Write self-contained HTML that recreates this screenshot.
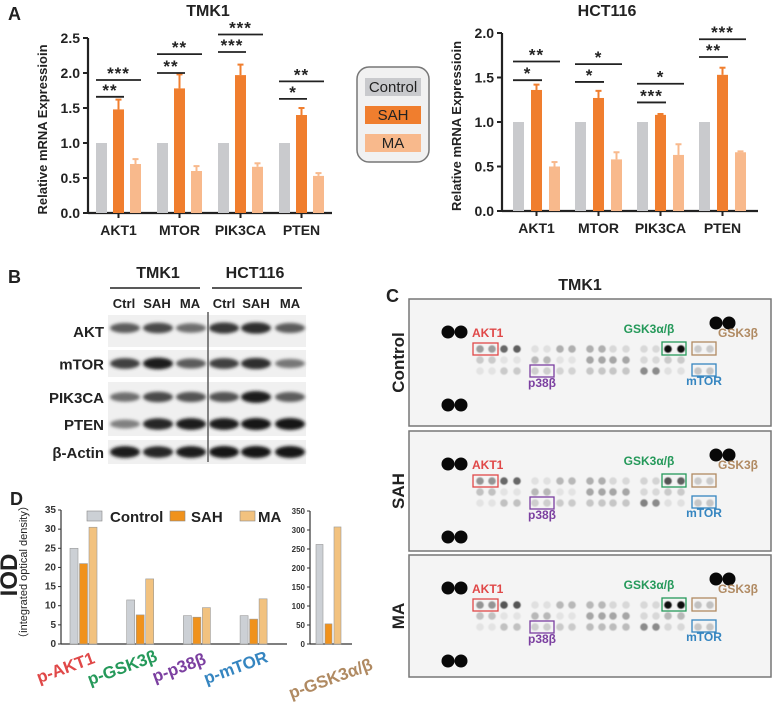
<!DOCTYPE html>
<html><head><meta charset="utf-8"><style>
body{margin:0;background:#fff;}
svg{display:block;font-family:"Liberation Sans",Arial,sans-serif;}
</style></head><body>
<svg id="fig" width="775" height="703" viewBox="0 0 775 703">
<defs>
<filter id="blur" x="-20%" y="-50%" width="140%" height="200%"><feGaussianBlur stdDeviation="1.6"/></filter>
<filter id="sblur"><feGaussianBlur stdDeviation="0.6"/></filter>
</defs>
<g id="gA"></g><g id="gB"></g><g id="gC"></g><g id="gD"></g>
</svg>
<script>
const NS='http://www.w3.org/2000/svg';
function mk(parent,tag,attrs,text){const e=document.createElementNS(NS,tag);for(const k in attrs)e.setAttribute(k,attrs[k]);if(text!==undefined)e.textContent=text;parent.appendChild(e);return e;}

// ===== Panel A data =====
const genes=['AKT1','MTOR','PIK3CA','PTEN'];
const tmkCtrl=[1,1,1,1];
const tmkSAH=[1.48,1.78,1.97,1.40];
const tmkSAHerr=[0.14,0.20,0.15,0.10];
const tmkMA=[0.70,0.60,0.66,0.53];
const tmkMAerr=[0.07,0.07,0.05,0.04];
const tmkTicks=[0,0.5,1.0,1.5,2.0,2.5];
const tmkSigShort=['**','**','***','*'];
const tmkSigShortY=[1.66,2.0,2.3,1.63];
const tmkSigWide=['***','**','***','**'];
const tmkSigWideY=[1.9,2.27,2.55,1.88];

const hctCtrl=[1,1,1,1];
const hctSAH=[1.36,1.27,1.08,1.53];
const hctSAHerr=[0.06,0.08,0.01,0.08];
const hctMA=[0.50,0.58,0.63,0.66];
const hctMAerr=[0.05,0.08,0.12,0.01];
const hctTicks=[0,0.5,1.0,1.5,2.0];
const hctSigShort=['*','*','***','**'];
const hctSigShortY=[1.47,1.45,1.22,1.73];
const hctSigWide=['**','*','*','***'];
const hctSigWideY=[1.68,1.65,1.43,1.93];

// ===== Panel D data =====
const iodCats=['p-AKT1','p-GSK3β','p-p38β','p-mTOR'];
const iodCtrl=[25,11.5,7.4,7.4];
const iodSAH=[21,7.6,7.0,6.5];
const iodMA=[30.5,17,9.5,11.8];
const iodTicks=[0,5,10,15,20,25,30,35];
const gskCat='p-GSK3α/β';
const gskCtrl=[262];
const gskSAH=[53];
const gskMA=[308];
const gskTicks=[0,50,100,150,200,250,300,350];

const C_CTRL='#c9cacd',C_SAH='#f07e2e',C_MA='#f8b98c';

function drawBarChart(g,o){
  const y=v=>o.y0-(v-0)*o.ppu;
  mk(g,'line',{x1:o.ax,y1:o.y0,x2:o.ax,y2:y(o.ticks[o.ticks.length-1]),stroke:'#222','stroke-width':2.2});
  mk(g,'line',{x1:o.ax,y1:o.y0,x2:o.axEnd,y2:o.y0,stroke:'#222','stroke-width':2.2});
  o.ticks.forEach(t=>{
    const tk=mk(g,'line',{x1:o.ax-5,y1:y(t),x2:o.ax,y2:y(t),stroke:'#222','stroke-width':2});
    
    const tl=mk(g,'text',{x:o.ax-8,y:y(t)+5,'text-anchor':'end','font-size':14,'font-weight':'bold',fill:'#222'},t.toFixed(1));
    
  });
  const yt=mk(g,'text',{transform:`translate(${o.ax-41},${(o.y0+y(o.ticks[o.ticks.length-1]))/2+4}) rotate(-90)`,'text-anchor':'middle','font-size':13,'font-weight':'bold',fill:'#222'},'Relative mRNA Expressioin');
  
  const tt=mk(g,'text',{x:o.titleX,y:16,'text-anchor':'middle','font-size':16,'font-weight':'bold',fill:'#222'},o.title);
  
  genes.forEach((gname,i)=>{
    const gx=o.x0+i*o.gap;
    const series=[[o.ctrl[i],0,C_CTRL,'control'],[o.sah[i],o.sahErr[i],C_SAH,'sah'],[o.ma[i],o.maErr[i],C_MA,'ma']];
    series.forEach((s,j)=>{
      const bx=gx+j*o.step;
      if(s[1]>0){
        const e=mk(g,'line',{x1:bx+o.bw/2,y1:y(s[0]),x2:bx+o.bw/2,y2:y(s[0]+s[1]),stroke:s[2],'stroke-width':2});
        
        mk(g,'line',{x1:bx+o.bw/2-3,y1:y(s[0]+s[1]),x2:bx+o.bw/2+3,y2:y(s[0]+s[1]),stroke:s[2],'stroke-width':2});
      }
      const r=mk(g,'rect',{x:bx,y:y(s[0]),width:o.bw,height:o.y0-y(s[0]),fill:s[2]});
      
      
    });
    const cx=gx+o.step+o.bw/2;
    mk(g,'line',{x1:cx,y1:o.y0,x2:cx,y2:o.y0+5,stroke:'#222','stroke-width':2});
    const cl=mk(g,'text',{x:cx,y:o.y0+22,'text-anchor':'middle','font-size':14,'font-weight':'bold',fill:'#222'},gname);
    
    const x1=gx,xs=gx+o.step+o.bw,xw=gx+2*o.step+o.bw;
    const l1=mk(g,'line',{x1:x1,y1:y(o.sigSY[i]),x2:xs,y2:y(o.sigSY[i]),stroke:'#222','stroke-width':1.8});
    
    const s1=mk(g,'text',{x:(x1+xs)/2,y:y(o.sigSY[i])-1,'text-anchor':'middle','font-size':17,'font-weight':'bold','letter-spacing':1,fill:'#222'},o.sigS[i]);
    
    const l2=mk(g,'line',{x1:x1,y1:y(o.sigWY[i]),x2:xw,y2:y(o.sigWY[i]),stroke:'#222','stroke-width':1.8});
    
    const s2=mk(g,'text',{x:(x1+xw)/2,y:y(o.sigWY[i])-1,'text-anchor':'middle','font-size':17,'font-weight':'bold','letter-spacing':1,fill:'#222'},o.sigW[i]);
    
  });
}
const gA=document.getElementById('gA');

const la=mk(gA,'text',{x:8,y:20,'font-size':18,'font-weight':'bold',fill:'#222'},'A');

const gA1=mk(gA,'g',{});
drawBarChart(gA1,{ax:88,axEnd:332,y0:213,ppu:70,ticks:tmkTicks,x0:96,gap:61,step:17,bw:11,ctrl:tmkCtrl,sah:tmkSAH,sahErr:tmkSAHerr,ma:tmkMA,maErr:tmkMAerr,sigS:tmkSigShort,sigSY:tmkSigShortY,sigW:tmkSigWide,sigWY:tmkSigWideY,title:'TMK1',titleX:208});
const gA2=mk(gA,'g',{});
drawBarChart(gA2,{ax:502,axEnd:758,y0:211,ppu:89,ticks:hctTicks,x0:513,gap:62,step:18,bw:11,ctrl:hctCtrl,sah:hctSAH,sahErr:hctSAHerr,ma:hctMA,maErr:hctMAerr,sigS:hctSigShort,sigSY:hctSigShortY,sigW:hctSigWide,sigWY:hctSigWideY,title:'HCT116',titleX:607});
const lg=mk(gA,'g',{});
mk(lg,'rect',{x:357,y:67,width:72,height:95,rx:12,fill:'#f1f1f1',stroke:'#777','stroke-width':1.5});
[['Control',C_CTRL,78],['SAH',C_SAH,106],['MA',C_MA,134]].forEach(it=>{
  const e=mk(lg,'g',{});
  mk(e,'rect',{x:365,y:it[2],width:56,height:18,fill:it[1]});
  mk(e,'text',{x:393,y:it[2]+14,'text-anchor':'middle','font-size':15,fill:'#222'},it[0]);
});

// ===== Panel B =====
const gB=document.getElementById('gB');

function T(p,x,y,s,txt,name,extra){const e=mk(p,'text',Object.assign({x:x,y:y,'font-size':s,'font-weight':'bold',fill:'#222'},extra||{}),txt);return e;}
T(gB,8,283,18,'B','panel-label-b');
T(gB,158,278,16,'TMK1','cell-line-label',{'text-anchor':'middle'});
T(gB,255,278,16,'HCT116','cell-line-label',{'text-anchor':'middle'});
mk(gB,'line',{x1:110,y1:288,x2:200,y2:288,stroke:'#222','stroke-width':1.5});
mk(gB,'line',{x1:212,y1:288,x2:302,y2:288,stroke:'#222','stroke-width':1.5});
const lanes=['Ctrl','SAH','MA','Ctrl','SAH','MA'];
const laneX=[124,157,190,224,256,290];
lanes.forEach((l,i)=>T(gB,laneX[i],308,13,l,'lane-label',{'text-anchor':'middle'}));
const blotRows=['AKT','mTOR','PIK3CA','PTEN','β-Actin'];
const blotTop=[315,350,382,412,440];
const blotH=[32,27,30,24,24];
const bandInt=[[0.6,0.7,0.5,0.8,0.85,0.6],[0.75,0.95,0.6,0.75,0.85,0.45],[0.5,0.7,0.65,0.65,0.95,0.6],[0.4,0.9,0.95,0.95,1,1],[0.95,0.9,0.95,1,1,1]];
blotRows.forEach((r,i)=>{
  const rg=mk(gB,'g',{});
  mk(rg,'rect',{x:108,y:blotTop[i],width:198,height:blotH[i],fill:'#f0f0f0'});
  T(rg,104,blotTop[i]+blotH[i]/2+6,15,r,'blot-row-label',{'text-anchor':'end'});
  laneX.forEach((x,j)=>{
    const v=bandInt[i][j];const c=Math.round(200-180*v);
    mk(rg,'ellipse',{cx:x+(j<3?1:0),cy:blotTop[i]+blotH[i]/2-(i==0?3:0),rx:15,ry:3.5+2.5*v,fill:`rgb(${c},${c},${c})`,filter:'url(#blur)'});
  });
});
mk(gB,'line',{x1:208,y1:312,x2:208,y2:462,stroke:'#666','stroke-width':1.6});

// ===== Panel C =====
const gC=document.getElementById('gC');

T(gC,386,302,18,'C','panel-label-c');
T(gC,580,290,16,'TMK1','array-title',{'text-anchor':'middle'});
const spotX=[480,492,504,517,535,547,560,572,590,602,613,626,644,656,668,681,698,710];
const memNames=['Control','SAH','MA'];
const memTop=[299,431,555];
const memH=[127,120,122];
const row1={Control:[.45,.45,.75,.8,.08,.08,.35,.35,.35,.35,.12,.12,.12,.12,1,1,.2,.2],SAH:[.5,.5,.75,.75,.08,.08,.3,.3,.35,.35,.12,.12,.15,.15,.85,.8,.2,.2],MA:[.5,.5,.85,.85,.08,.08,.3,.3,.3,.3,.12,.12,.12,.12,1,1,.25,.25]};
const row2={Control:[.2,.2,.06,.06,.3,.3,.06,.06,.4,.4,.4,.4,.12,.12,.2,.2,0,0],SAH:[.25,.25,.06,.06,.3,.3,.06,.06,.4,.4,.4,.4,.12,.12,.2,.2,0,0],MA:[.25,.25,.06,.06,.3,.3,.06,.06,.4,.4,.4,.4,.12,.12,.3,.3,0,0]};
const row3={Control:[.06,.06,.2,.2,.18,.18,.15,.15,.22,.22,.22,.22,.55,.55,.08,.08,.22,.22],SAH:[.06,.06,.25,.25,.18,.18,.2,.2,.22,.22,.22,.22,.6,.55,.08,.08,.22,.22],MA:[.06,.06,.25,.25,.18,.18,.2,.2,.28,.28,.28,.28,.55,.55,.12,.12,.22,.22]};
memNames.forEach((m,k)=>{
  const t=memTop[k];
  const mg=mk(gC,'g',{});
  mk(mg,'rect',{x:409,y:t,width:362,height:memH[k],fill:'#f4f4f4',stroke:'#777','stroke-width':1.5});
  T(mg,0,0,17,m,'membrane-label',{'text-anchor':'middle',transform:`translate(404,${t+memH[k]/2}) rotate(-90)`});
  [[448,t+33],[461,t+33],[448,t+106],[461,t+106],[716,t+24],[729,t+24]].forEach(p=>mk(mg,'circle',{cx:p[0],cy:p[1],r:6.5,fill:'#080808'}));
  [[row1,50],[row2,61],[row3,72]].forEach(rr=>{
    rr[0][m].forEach((v,i)=>{if(v<=0)return;const c=v>=1?15:Math.round(238-180*v);
      const s=mk(mg,'circle',{cx:spotX[i],cy:t+rr[1],r:3.8,fill:`rgb(${c},${c},${c})`,filter:'url(#sblur)'});
      });
  });
  const boxes=[['AKT1','#e04848',473,44,25,12,472,38,'start'],['GSK3α/β','#25995a',662,43,24,13,649,34,'middle'],['GSK3β','#b08a62',692,43,24,13,718,38,'start'],['p38β','#7b3fa0',530,66,24,12,542,88,'middle'],['mTOR','#3585c0',692,65,24,12,704,86,'middle']];
  boxes.forEach(b=>{
    const bg=mk(mg,'g',{});
    mk(bg,'rect',{x:b[2],y:t+b[3],width:b[4],height:b[5],fill:'none',stroke:b[1],'stroke-width':1.3});
    mk(bg,'text',{x:b[6],y:t+b[7],'text-anchor':b[8],'font-size':12,'font-weight':'bold',fill:b[1]},b[0]);
  });
});

// ===== Panel D =====
const gD=document.getElementById('gD');

T(gD,10,505,18,'D','panel-label-d');
const yl=mk(gD,'text',{transform:'translate(17,575) rotate(-90)','text-anchor':'middle','font-size':24,'font-weight':'bold',fill:'#222'},'IOD');

const yl2=mk(gD,'text',{transform:'translate(27,572) rotate(-90)','text-anchor':'middle','font-size':11,fill:'#222'},'（integrated optical density）');

const D_CTRL='#ccd0d5',D_SAH='#f0921c',D_MA='#f2c27f';
function iodChart(g,o){
  const y=v=>o.y0-v*o.ppu;
  mk(g,'line',{x1:o.ax,y1:o.y0,x2:o.ax,y2:y(o.ticks[o.ticks.length-1]),stroke:'#333','stroke-width':1.2});
  mk(g,'line',{x1:o.ax,y1:o.y0,x2:o.axEnd,y2:o.y0,stroke:'#333','stroke-width':1.2});
  o.ticks.forEach(t=>{
    mk(g,'line',{x1:o.ax-3,y1:y(t),x2:o.ax,y2:y(t),stroke:'#333','stroke-width':1});
    const tl=mk(g,'text',{x:o.ax-5,y:y(t)+3,'text-anchor':'end','font-size':o.fs,'font-weight':'bold',fill:'#333'},String(t));
    
  });
  o.cats.forEach((c,i)=>{
    const gx=o.x0+i*o.gap;
    [[o.ctrl[i],D_CTRL,'control'],[o.sah[i],D_SAH,'sah'],[o.ma[i],D_MA,'ma']].forEach((s,j)=>{
      const r=mk(g,'rect',{x:gx+j*o.step,y:y(s[0]),width:o.bw,height:o.y0-y(s[0]),fill:s[1],stroke:'#999','stroke-width':0.6});
      
    });
    const cx=gx+o.step+o.bw/2;
    const cl=mk(g,'text',{transform:`translate(${cx+o.lx},${o.ly}) rotate(-20)`,'text-anchor':'middle','font-size':17,'font-weight':'bold',fill:o.colors[i]},c);
    
  });
}
const gD1=mk(gD,'g',{});
iodChart(gD1,{ax:61,axEnd:287,y0:644,ppu:134/35,ticks:iodTicks,fs:10,x0:70,gap:56.7,step:9.5,bw:8,cats:iodCats,ctrl:iodCtrl,sah:iodSAH,ma:iodMA,lx:-16,ly:673,colors:['#e04848','#25995a','#7b3fa0','#3585c0']});
const gD2=mk(gD,'g',{});
iodChart(gD2,{ax:310,axEnd:352,y0:644,ppu:133/350,ticks:gskTicks,fs:8,x0:316,gap:0,step:9,bw:7,cats:[gskCat],ctrl:gskCtrl,sah:gskSAH,ma:gskMA,lx:4,ly:684,colors:['#b08a62']});
const ld=mk(gD,'g',{});
[['Control',D_CTRL,87,110],['SAH',D_SAH,170,191],['MA',D_MA,240,258]].forEach(it=>{
  const e=mk(ld,'g',{});
  mk(e,'rect',{x:it[2],y:511,width:15,height:10,fill:it[1],stroke:'#888','stroke-width':0.6});
  mk(e,'text',{x:it[3],y:522,'font-size':15,'font-weight':'bold',fill:'#222'},it[0]);
});
</script>
</body></html>
